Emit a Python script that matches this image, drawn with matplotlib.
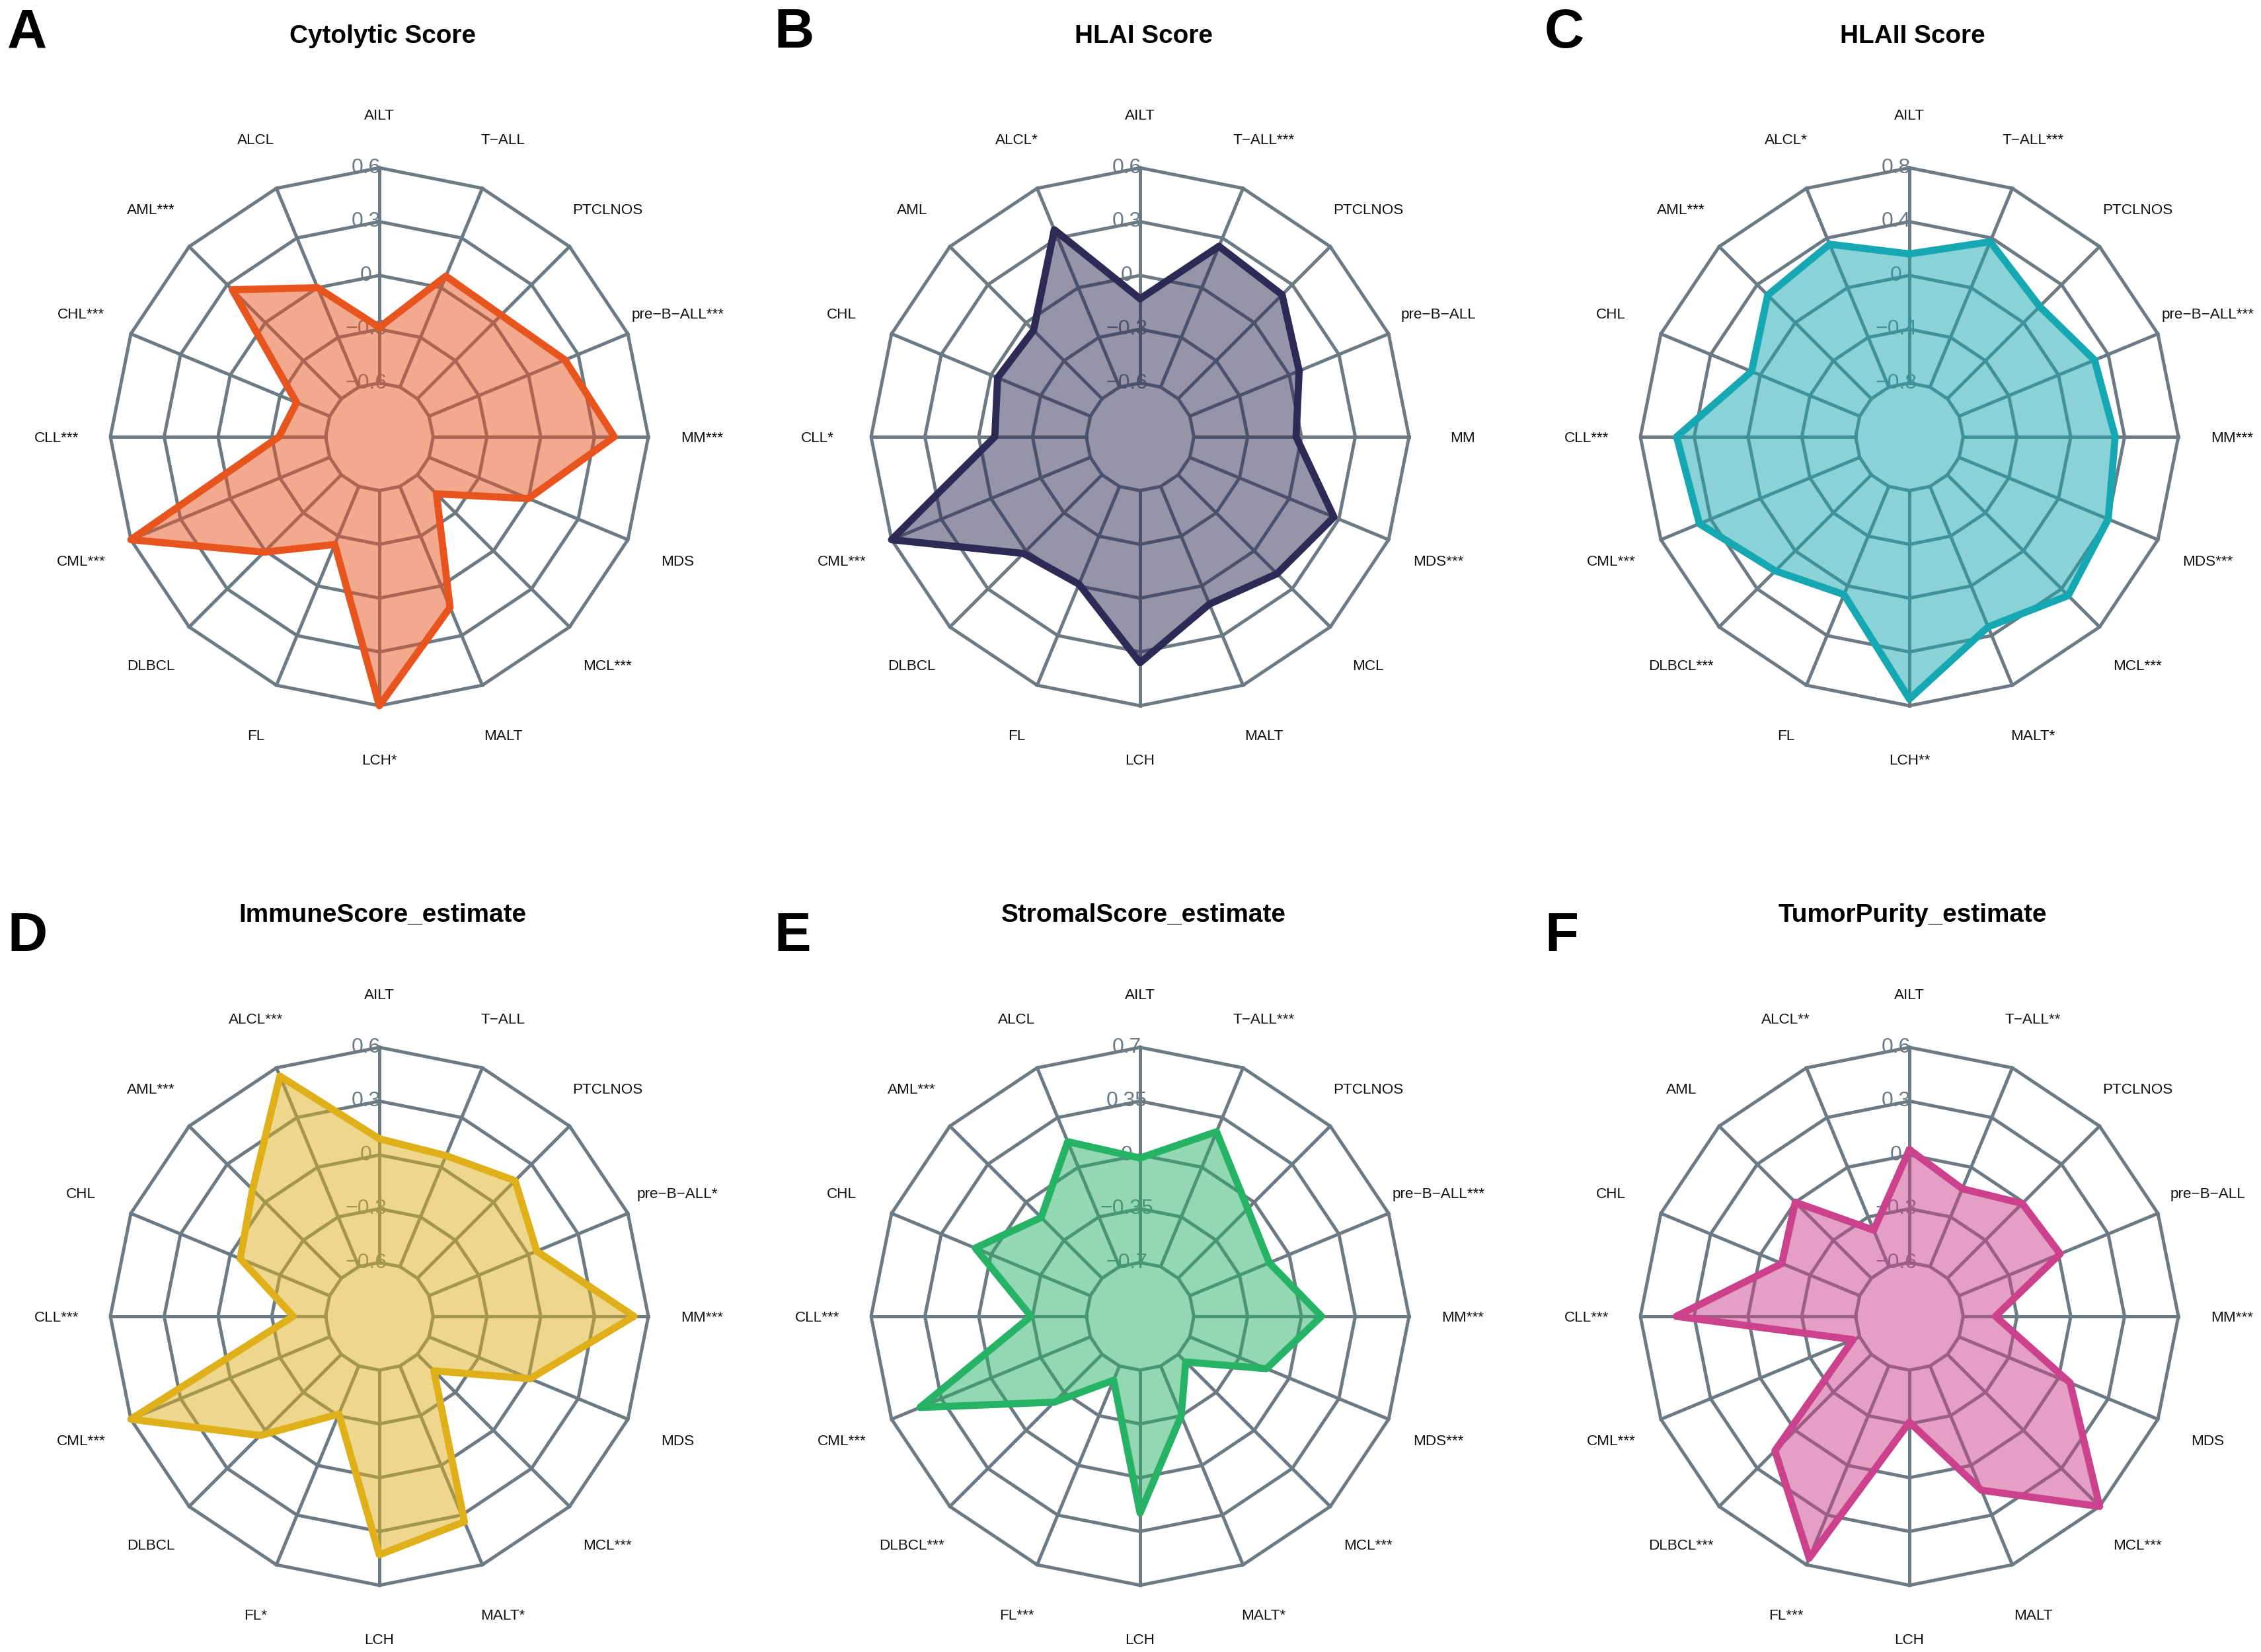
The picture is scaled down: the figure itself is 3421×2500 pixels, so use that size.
import numpy as np
import matplotlib
matplotlib.use("Agg")
import matplotlib.pyplot as plt

plt.rcParams['font.family'] = ['Liberation Sans', 'DejaVu Sans']

W, H, DPI = 3421, 2500, 300

# groups go counter-clockwise from the top
groups = ["AILT", "ALCL", "AML", "CHL", "CLL", "CML", "DLBCL", "FL", "LCH",
          "MALT", "MCL", "MDS", "MM", "pre-B-ALL", "PTCLNOS", "T-ALL"]

cytolytic = [-0.29, 0.00, 0.26, -0.40, -0.34, 0.60, 0.01, -0.25, 0.60,
             0.13, -0.45, 0.00, 0.41, 0.22, 0.06, 0.07]
cytolytic_sig = ["", "", "***", "***", "***", "***", "", "", "*",
                 "", "***", "", "***", "***", "", ""]

hla1 = [-0.13, 0.35, -0.06, -0.04, -0.09, 0.60, 0.02, -0.01, 0.36,
        0.11, 0.18, 0.27, -0.03, 0.06, 0.22, 0.25]
hla1_sig = ["", "*", "", "", "*", "***", "", "", "",
            "", "", "***", "", "", "", "***"]

hla2 = [0.16, 0.35, 0.29, 0.07, 0.53, 0.49, 0.21, 0.07, 0.75,
        0.33, 0.47, 0.40, 0.33, 0.29, 0.17, 0.37]
hla2_sig = ["", "*", "***", "", "***", "***", "***", "", "**",
            "*", "***", "***", "***", "***", "", "***"]

immune = [0.09, 0.55, 0.10, -0.06, -0.42, 0.60, 0.04, -0.31, 0.43,
          0.34, -0.47, 0.01, 0.52, 0.05, 0.17, 0.07]
immune_sig = ["", "***", "***", "", "***", "***", "", "*", "",
              "*", "***", "", "***", "*", "", ""]

stromal = [-0.02, 0.18, -0.14, 0.11, -0.34, 0.50, -0.26, -0.60, 0.23,
           -0.35, -0.63, -0.16, 0.13, -0.14, -0.06, 0.25]
stromal_sig = ["", "", "***", "", "***", "***", "***", "***", "",
               "*", "***", "***", "***", "***", "", "***"]

purity = [0.03, -0.38, 0.00, -0.13, 0.40, -0.56, 0.16, 0.56, -0.31,
          0.15, 0.60, 0.07, -0.42, 0.01, -0.01, -0.13]
purity_sig = ["", "**", "", "", "***", "***", "***", "***", "",
              "", "***", "", "***", "", "", "**"]

ticks_06 = [-0.6, -0.3, 0, 0.3, 0.6]
ticks_08 = [-0.8, -0.4, 0, 0.4, 0.8]
ticks_07 = [-0.7, -0.35, 0, 0.35, 0.7]

panels = [
    ("A", "Cytolytic Score", cytolytic, cytolytic_sig, ticks_06, "#E8541E"),
    ("B", "HLAI Score", hla1, hla1_sig, ticks_06, "#2D2A55"),
    ("C", "HLAII Score", hla2, hla2_sig, ticks_08, "#15A8B2"),
    ("D", "ImmuneScore_estimate", immune, immune_sig, ticks_06, "#DFB01A"),
    ("E", "StromalScore_estimate", stromal, stromal_sig, ticks_07, "#27B366"),
    ("F", "TumorPurity_estimate", purity, purity_sig, ticks_06, "#CC418C"),
]

GRID = "#6C7A83"
centers = [(574, 661), (1725, 661), (2889, 661),
           (574, 1992), (1725, 1992), (2889, 1992)]
letter_x = [11, 1171, 2337]
R = 407
HALF = 1.4


def fmt(v):
    return f"{v:g}".replace("-", "\u2212")


def draw_radar(ax, values, sig, ticks, color):
    n = len(groups)
    ang = np.pi / 2 + 2 * np.pi * np.arange(n) / n
    cx, sx = np.cos(ang), np.sin(ang)
    seg = len(ticks) - 1
    lo, hi = ticks[0], ticks[-1]

    for k in range(seg + 1):
        r = (k + 1) / (seg + 1)
        ax.plot(np.append(r * cx, r * cx[0]), np.append(r * sx, r * sx[0]),
                color=GRID, lw=1.2, zorder=2)
    r0 = 1 / (seg + 1)
    for a, b in zip(cx, sx):
        ax.plot([r0 * a, a], [r0 * b, b], color=GRID, lw=1.2, zorder=2)

    for k, t in enumerate(ticks):
        ax.text(-0.05, (k + 1) / (seg + 1), fmt(t), ha="center", va="center",
                color=GRID, fontsize=7.7, zorder=1)

    v = np.array(values)
    r = (v - lo) / (hi - lo) * seg / (seg + 1) + 1 / (seg + 1)
    xs, ys = r * cx, r * sx
    ax.fill(xs, ys, color=color, alpha=0.5, lw=0, zorder=3)
    ax.plot(np.append(xs, xs[0]), np.append(ys, ys[0]), color=color, lw=2.6,
            zorder=4, solid_joinstyle="round", solid_capstyle="round")

    for name, s, a, b in zip(groups, sig, cx, sx):
        ax.text(1.2 * a, 1.2 * b, (name + s).replace("-", "\u2212"),
                ha="center", va="center_baseline", fontsize=5.4, color="#111111")


fig = plt.figure(figsize=(W / DPI, H / DPI), dpi=DPI)

for i, (letter, title, vals, sig, ticks, col) in enumerate(panels):
    px, py = centers[i]
    half = HALF * R
    ax = fig.add_axes([(px - half) / W, (H - py - half) / H, 2 * half / W, 2 * half / H])
    ax.set_xlim(-HALF, HALF)
    ax.set_ylim(-HALF, HALF)
    ax.axis("off")
    draw_radar(ax, vals, sig, ticks, col)

    title_y = 65 if i < 3 else 1395
    letter_y = 72 if i < 3 else 1439
    fig.text((px + 5) / W, 1 - title_y / H, title, ha="center", va="baseline",
             fontsize=9.3, fontweight="bold")
    fig.text(letter_x[i % 3] / W, 1 - letter_y / H, letter, ha="left", va="baseline",
             fontsize=20, fontweight="bold")

fig.savefig("out.png", dpi=DPI, facecolor="white")
